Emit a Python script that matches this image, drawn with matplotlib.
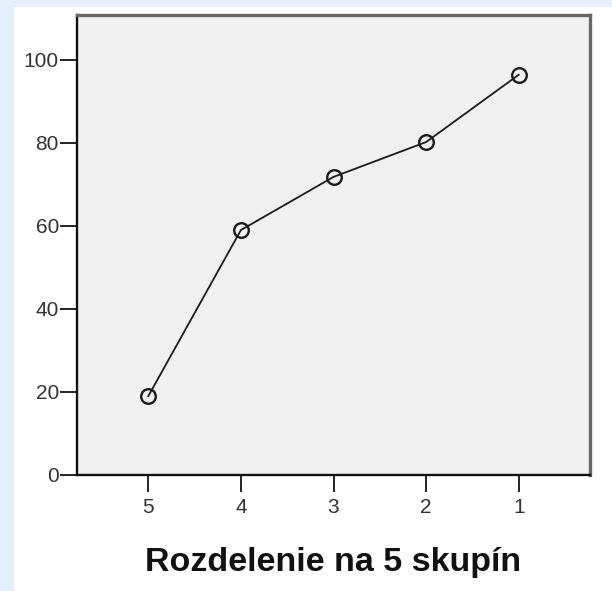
import matplotlib
matplotlib.use('Agg')
import matplotlib.pyplot as plt
from matplotlib.patches import Rectangle

# Data
groups = ['5', '4', '3', '2', '1']
values = [19.0, 59.0, 71.8, 80.2, 96.4]
y_ticks = [0, 20, 40, 60, 80, 100]

plt.rcParams['font.family'] = ['Liberation Sans', 'DejaVu Sans']

fig = plt.figure(figsize=(6.12, 5.91), dpi=100)
fig.patch.set_facecolor('#e4eefc')
# white page area, behind the axes
fig.patches.append(Rectangle((14 / 612, 0), 1, 1 - 7 / 591, transform=fig.transFigure,
                             facecolor='white', edgecolor='none', zorder=-10))

ax = fig.add_axes([77 / 612, 1 - 475 / 591, (590 - 77) / 612, (475 - 15) / 591])
ax.set_facecolor('#f0f0f0')

x = list(range(len(groups)))
ax.plot(x, values, color='#1a1a1a', lw=1.3, marker='o', markersize=10.5,
        markerfacecolor='none', markeredgecolor='#1a1a1a', markeredgewidth=1.7)

ax.set_xlim(-0.77, len(groups) - 1 + 0.77)
ax.set_ylim(0, 110.8)
ax.set_xticks(x)
ax.set_xticklabels(groups)
ax.set_yticks(y_ticks)

ax.tick_params(axis='both', direction='out', length=12.5, width=1.4, color='#222222',
               labelsize=15, labelcolor='#333333')
ax.tick_params(axis='y', pad=0.5)
ax.tick_params(axis='x', pad=4)

for side in ['left', 'bottom']:
    ax.spines[side].set_color('#111111')
    ax.spines[side].set_linewidth(1.7)
for side in ['top', 'right']:
    ax.spines[side].set_color('#666666')
    ax.spines[side].set_linewidth(2.4)

ax.set_xlabel('Rozdelenie na 5 skupín', fontsize=24.5, fontweight='bold', color='#111111')
ax.xaxis.set_label_coords(0.5, -0.191)
ax.xaxis.label.set_va('center')

plt.savefig('out.png', dpi=100, facecolor=fig.get_facecolor())
